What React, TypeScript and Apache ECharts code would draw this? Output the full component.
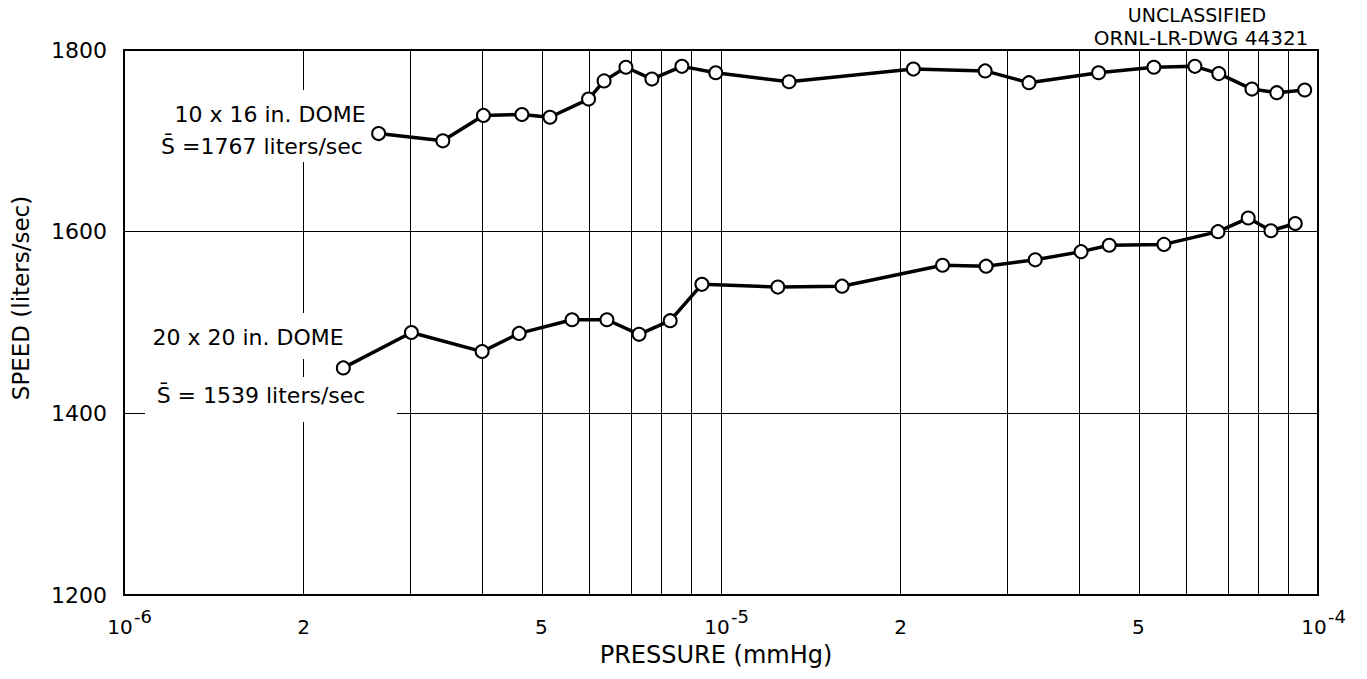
import React, { useEffect, useRef } from "react";
import * as echarts from "echarts";

// ---- data ----
const upperPressure = [2.67e-6, 3.42e-6, 4.0e-6, 4.64e-6, 5.17e-6, 6.0e-6, 6.37e-6, 6.93e-6, 7.66e-6, 8.6e-6, 9.8e-6, 1.3e-5, 2.1e-5, 2.77e-5, 3.28e-5, 4.29e-5, 5.31e-5, 6.22e-5, 6.82e-5, 7.75e-5, 8.53e-5, 9.5e-5];
const upperSpeed = [1708, 1700, 1728, 1729, 1726, 1746, 1766, 1781, 1768, 1782, 1775, 1765, 1779, 1777, 1764, 1775, 1781, 1782, 1774, 1757, 1753, 1756];

const lowerPressure = [2.33e-6, 3.03e-6, 3.98e-6, 4.59e-6, 5.63e-6, 6.44e-6, 7.29e-6, 8.22e-6, 9.29e-6, 1.245e-5, 1.595e-5, 2.35e-5, 2.78e-5, 3.36e-5, 4.01e-5, 4.47e-5, 5.52e-5, 6.8e-5, 7.64e-5, 8.34e-5, 9.16e-5];
const lowerSpeed = [1450, 1489, 1468, 1488, 1503, 1503, 1487, 1502, 1542, 1539, 1540, 1563, 1562, 1569, 1578, 1585, 1586, 1600, 1615, 1601, 1609];

const gridPressures = [2e-6, 3e-6, 4e-6, 5e-6, 6e-6, 7e-6, 8e-6, 9e-6, 1e-5, 2e-5, 3e-5, 4e-5, 5e-5, 6e-5, 7e-5, 8e-5, 9e-5];
const xTickPressures = [1e-6, 2e-6, 5e-6, 1e-5, 2e-5, 5e-5, 1e-4];
const yTicks = [1200, 1400, 1600, 1800];

const upperLabel = ["10 x 16 in. DOME", "S\u0304 =1767 liters/sec"];
const lowerLabel = ["20 x 20 in. DOME", "S\u0304 = 1539 liters/sec"];
const stampLines = ["UNCLASSIFIED", "ORNL-LR-DWG 44321"];
const xName = "PRESSURE (mmHg)";
const yName = "SPEED (liters/sec)";

const FONT = "DejaVu Sans";
const lg = (p: number) => Math.round(Math.log10(p) * 1e9) / 1e9;

export default function App() {
  const ref = useRef<HTMLDivElement>(null);
  useEffect(() => {
    if (!ref.current) return;
    const chart = echarts.init(ref.current, null, { renderer: "svg" });
    const pts = (ps: number[], vs: number[]) => ps.map((p, i) => [lg(p), vs[i]]);
    const lineSeries = (name: string, data: number[][]) => ({
      name,
      type: "line",
      data,
      z: 5,
      symbol: "circle",
      symbolSize: 13,
      lineStyle: { color: "#000", width: 3.5 },
      itemStyle: { color: "#fff", borderColor: "#000", borderWidth: 2 },
      silent: true,
    });
    const txt = (text: string, x: number, y: number, size: number, align = "center", rotation = 0) => ({
      type: "text",
      x,
      y,
      rotation,
      z: 4,
      silent: true,
      style: { text, fill: "#000", fontSize: size, fontFamily: FONT, align, verticalAlign: "middle" },
    });
    const box = (x: number, y: number, w: number, h: number) => ({
      type: "rect",
      z: 3,
      silent: true,
      shape: { x, y, width: w, height: h },
      style: { fill: "#fff" },
    });
    const option: any = {
      animation: false,
      grid: { left: 124, right: 49, top: 50, bottom: 84, show: true, borderColor: "#000", borderWidth: 2, backgroundColor: "transparent" },
      xAxis: {
        type: "value",
        min: -6,
        max: -4,
        axisLine: { show: false },
        axisTick: { show: false },
        splitLine: { show: false },
        axisLabel: {
          customValues: xTickPressures.map(lg),
          margin: 16,
          color: "#000",
          formatter: (v: number) => {
            const e = Math.floor(v + 1e-6);
            const m = Math.round(Math.pow(10, v - e));
            return m === 1 ? `{g1| }{sup|${e}}\n{base|10}{g2| }` : `{sup| }\n{base|${m}}`;
          },
          rich: {
            base: { fontSize: 20, fontFamily: FONT, color: "#000", lineHeight: 11 },
            sup: { fontSize: 18, fontFamily: FONT, color: "#000", lineHeight: 10 },
            g1: { width: 38, fontSize: 18, lineHeight: 10 },
            g2: { width: 8, fontSize: 20, lineHeight: 11 },
          },
        },
      },
      yAxis: {
        type: "value",
        min: 1200,
        max: 1800,
        interval: 200,
        axisLine: { show: false },
        axisTick: { show: false },
        splitLine: { show: true, lineStyle: { color: "#000", width: 1 } },
        axisLabel: { color: "#000", fontSize: 22, fontFamily: FONT, margin: 17, customValues: yTicks, formatter: (v: number) => String(v) },
      },
      series: [
        {
          ...lineSeries("20 x 20 in. DOME", pts(lowerPressure, lowerSpeed)),
          markLine: {
            silent: true,
            z: 1,
            symbol: ["none", "none"],
            label: { show: false },
            lineStyle: { color: "#000", width: 1, type: "solid" },
            emphasis: { disabled: true },
            data: gridPressures.map((p) => ({ xAxis: lg(p) })),
          },
        },
        lineSeries("10 x 16 in. DOME", pts(upperPressure, upperSpeed)),
      ],
      graphic: [
        box(150, 90, 220, 72),
        box(145, 313, 205, 46),
        box(145, 377, 252, 45),
        txt(upperLabel[0], 270, 114, 22),
        txt(upperLabel[1], 262, 146, 22),
        txt(lowerLabel[0], 248, 337, 22),
        txt(lowerLabel[1], 261, 395, 22),
        txt(stampLines[0], 1197, 15, 19),
        txt(stampLines[1], 1201, 38, 20),
        txt(xName, 716, 655, 24),
        txt(yName, 21, 298, 23, "center", Math.PI / 2),
      ],
    };
    chart.setOption(option);
    return () => chart.dispose();
  }, []);
  return <div ref={ref} style={{ position: "absolute", left: 0, top: 0, width: 1367, height: 679 }} />;
}
